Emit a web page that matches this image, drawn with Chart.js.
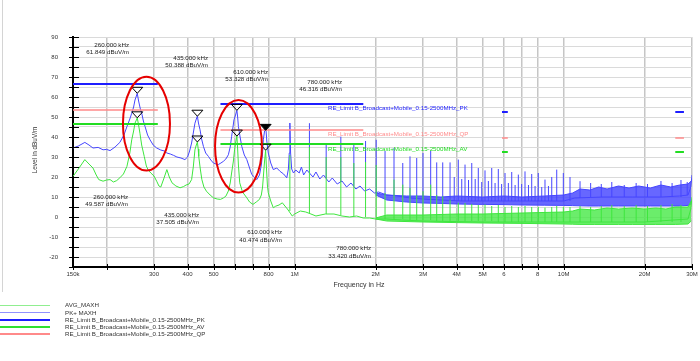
<!DOCTYPE html>
<html>
<head>
<meta charset="utf-8">
<script src="https://cdn.jsdelivr.net/npm/chart.js@4.4.1/dist/chart.umd.min.js"></script>
<style>
  html, body { margin: 0; padding: 0; background: #fff; }
  #wrap { position: relative; width: 700px; height: 361px; overflow: hidden; }
  #emi { position: absolute; left: 0; top: 0; }
  .lg-line { position: absolute; left: 0; width: 50px; }
  .lg-text { position: absolute; left: 65px; font: 6.2px "Liberation Sans", Arial, sans-serif; color: #333; line-height: 8px; white-space: nowrap; }
</style>
</head>
<body>
<div id="wrap">
  <canvas id="emi" width="700" height="361"></canvas>
  <div id="legend"></div>
</div>
<script>
// x axis ticks (kHz)
var xTickValues = [150, 200, 300, 400, 500, 600, 700, 800, 1000, 2000, 3000, 4000, 5000, 6000, 7000, 8000, 10000, 20000, 30000];
var xTickLabels = ['150k', '', '300', '400', '500', '', '', '800', '1M', '2M', '3M', '4M', '5M', '6', '', '8', '10M', '20M', '30M'];

// PK+ MAXH trace, base curve (kHz, dBuV/m)
var pkFreq = [150, 157, 166, 172, 178, 186, 194, 200, 206, 215, 224, 232, 238, 244, 248, 252, 255, 258, 260, 263, 267, 270, 274, 278, 284, 290, 298, 307, 318, 328, 335, 345, 355, 365, 378, 391, 400, 407, 414, 420, 426, 431, 435, 439, 445, 451, 458, 467, 478, 488, 499, 510, 520, 532, 543, 555, 567, 576, 583, 590, 595, 603, 610, 614, 618, 627, 636, 650, 664, 678, 693, 708, 723, 740, 752, 760, 765, 773, 780, 788, 798, 815, 833, 858, 883, 910, 935, 948, 955, 960, 966, 975, 990, 1010, 1040, 1060, 1080, 1110, 1170, 1200, 1240, 1280, 1340, 1380, 1440, 1500, 1560, 1620, 1690, 1750, 1820, 1900, 1980, 2050, 2200, 2400, 2700, 3000, 3500, 4200, 5000, 7000, 10000, 11000, 14000, 18000, 23000, 27000, 29000, 29700, 30000];
var pkLevel = [34.5, 35.5, 37.3, 36, 34.5, 34.8, 33.6, 33.8, 33.2, 35, 37.3, 41, 45.2, 49, 51.9, 55, 58.5, 60.5, 61.8, 58, 54, 52, 48, 45.2, 41, 38.6, 36, 34.5, 33.5, 33, 32, 31.5, 30.8, 30, 29.5, 28.7, 30, 33, 37, 42, 46.9, 49, 50.4, 47, 43.6, 39, 35.3, 32, 30.3, 28.5, 27, 26.5, 26.2, 27, 27.8, 29, 31.1, 35, 40.2, 45, 48.6, 51, 53.3, 50, 45.2, 40, 35.3, 31, 28.7, 25, 21.2, 20, 18.7, 21, 26, 32, 38.6, 43, 46.3, 38, 32, 27, 23.7, 24.5, 22.8, 21.5, 19.6, 24, 32, 47, 32, 24, 22, 23.5, 22, 25, 21, 23.5, 20, 22.5, 19, 21, 17.5, 19.5, 16.5, 18, 15, 17, 14, 15.5, 13, 14, 12, 12.5, 11, 10.5, 9.5, 9, 8.5, 8, 8, 8, 8, 9.5, 10, 10, 10, 10.5, 11, 15, 21];

// PK+ MAXH harmonic spikes
var pkSpikeFreq = [1135, 1310, 1485, 1660, 1835, 2010, 2168, 2341, 2523, 2684, 2843, 3000, 3204, 3374, 3552, 3782, 3920, 4059, 4180, 4299, 4430, 4554, 4690, 4816, 4960, 5101, 5250, 5403, 5560, 5716, 5880, 6054, 6230, 6412, 6600, 6785, 6980, 7184, 7400, 7608, 7830, 8049, 8290, 8524, 8780, 9031, 9425, 9972, 10560, 11506, 12600, 13800, 15100, 16800, 18600, 20500, 23000, 25300, 27300, 28800];
var pkSpikeTop = [46.9, 36, 40.2, 36, 38, 38.6, 33, 34.5, 27, 30.3, 29.5, 32, 33, 27.3, 27.3, 27.3, 20, 28.7, 19, 26.2, 18.5, 27, 19, 24.5, 17.5, 23.3, 18, 24.5, 17, 24, 16.5, 22, 17, 22.5, 16, 21.2, 16.5, 22.8, 16, 21.5, 15.5, 22, 15, 18.7, 15.5, 20, 23.7, 22, 20, 17.9, 17, 16.5, 17.5, 16, 17, 16.5, 18, 17, 18.5, 17.5];
var pkSpikeBase = [22, 19.5, 17.5, 15.5, 14, 12.5, 11.5, 11, 10, 9.5, 9, 9, 8.5, 8.5, 8, 8, 8, 8, 8, 8, 8, 8, 8, 8, 8, 8, 8, 8, 8, 8, 8, 8, 8, 8, 8, 8, 8, 8, 8, 8, 8, 8, 8, 8, 8, 8, 8, 8, 8, 9.5, 10, 10, 10, 10, 10, 10, 10, 10, 10, 11];

// PK+ MAXH dense noise band
var pkBandFreq = [2000, 2200, 2600, 3000, 3500, 4000, 5000, 6000, 7000, 8500, 10000, 10800, 11500, 12500, 13500, 14500, 16000, 17500, 19000, 21000, 23000, 25000, 27000, 29000, 29800];
var pkBandLow = [11, 8.5, 7.5, 7, 6.8, 6.5, 6.3, 6.2, 6, 5.9, 5.8, 5.7, 5.6, 5.5, 5.5, 5.5, 5.5, 5.5, 5.5, 5.5, 5.5, 5.5, 5.5, 5.8, 6.5];
var pkBandHigh = [12, 11, 10.5, 10.5, 10, 10.5, 10, 10.5, 10, 10.5, 11, 12, 14, 13.5, 15, 14, 15.5, 14.5, 15.5, 14.5, 16, 15, 16, 16.5, 18];

// AVG_MAXH trace, base curve
var avFreq = [150, 157, 166, 172, 178, 183, 187, 194, 200, 206, 212, 218, 224, 231, 238, 244, 248, 252, 255, 258, 260, 263, 266, 270, 276, 281, 285, 292, 300, 307, 313, 318, 326, 335, 342, 350, 362, 375, 386, 395, 405, 414, 420, 426, 431, 435, 438, 440, 446, 452, 460, 470, 485, 499, 515, 530, 543, 555, 567, 576, 583, 592, 598, 604, 610, 614, 618, 625, 640, 664, 680, 700, 720, 740, 752, 760, 765, 772, 780, 786, 792, 798, 815, 833, 850, 875, 900, 920, 940, 980, 1000, 1050, 1100, 1150, 1200, 1300, 1400, 1500, 1600, 1700, 1800, 1900, 2000, 2200, 2500, 3000, 4000, 5000, 10000, 20000, 29000, 29700, 30000];
var avLevel = [20.3, 24, 28.7, 26.5, 24.5, 21, 18.7, 17.9, 18.5, 18.7, 17.5, 18.2, 19.6, 21.5, 25.3, 32, 38.6, 43, 46.9, 48.5, 49.6, 46, 41.9, 36, 30.3, 25.5, 23.7, 22, 20.5, 17.9, 15.5, 15, 19, 23.7, 20, 17.1, 15.5, 14.6, 15.2, 16, 16.5, 18.7, 25, 33.6, 36, 37.5, 34, 30.3, 24, 18.7, 15, 12.9, 11, 9.6, 9, 8.8, 9.5, 10.4, 13, 17, 22, 28, 33.6, 37.5, 40.5, 34, 26, 17.1, 12.5, 9.6, 7.5, 6.3, 7.5, 8.8, 11, 15, 20, 27, 33.4, 24, 16, 12.1, 8, 4.6, 5.4, 6, 7.1, 5.5, 4, 0.5, 1.5, 3, 2.5, 1.5, 0.5, 1.5, 1.5, 0.5, 0, 0.5, -0.5, -0.5, -1, -1, -1.5, -2, -2.3, -2.5, -2.5, -2.5, -1, 4, 10];

// AVG_MAXH harmonic spikes
var avSpikeFreq = [960, 1135, 1310, 1485, 1660, 1835, 2010, 2168, 2341, 2523, 2684, 2843, 3000, 3204, 3374, 3552, 3782, 4059, 4299, 4554, 4816, 5101, 5403, 5716, 6054, 6412, 6785, 7184, 7608, 8049, 8524, 9031, 9425, 9972, 10560, 11506, 12600, 13800, 15100, 16800, 18600, 20500, 23000, 25300, 27300];
var avSpikeTop = [31, 35, 30, 30, 27, 27.5, 26, 12, 18.7, 16.2, 14.6, 11, 12.9, 16.2, 11, 10.4, 8.7, 7.1, 7, 6.5, 6, 6.3, 5.5, 6, 5, 5.5, 5, 5.5, 5, 5, 4.7, 5, 5.5, 5, 5, 5.5, 5, 5.5, 6, 5.5, 6, 5.5, 6, 6.5, 6];
var avSpikeBase = [3, 2, 1.5, 1, 0.5, 0, -0.5, -1, -1, -1, -1.5, -1.5, -1.5, -1.5, -2, -2, -2, -2, -2, -2, -2, -2, -2, -2.5, -2.5, -2.5, -2.5, -2.5, -2.5, -2.5, -2.5, -2.5, -2.5, -2.5, -2.5, -2.5, -2.5, -2.5, -2.5, -2.5, -2.5, -2.5, -2.5, -2.5, -2.5];

// AVG_MAXH dense noise band
var avBandFreq = [2000, 2200, 3000, 4000, 5000, 7000, 10000, 10800, 11500, 13000, 14500, 16000, 18000, 20000, 22000, 24000, 26000, 29000, 29800];
var avBandLow = [-1, -2, -2.5, -2.8, -3, -3.2, -3.5, -3.6, -3.7, -3.7, -3.7, -3.7, -3.7, -3.7, -3.7, -3.7, -3.7, -3.5, -2];
var avBandHigh = [-0.5, 1, 1, 1.5, 1.5, 2, 2.5, 3, 4, 3.5, 4.5, 4, 4.5, 4, 4.5, 4, 5, 5, 8];

// limit lines (broadcast bands LW, MW, SW, CB)
var limitStart = [150, 530, 5900, 26000];
var limitEnd = [310, 1800, 6200, 28000];
var pkLimit = [66.5, 56.5, 52.5, 52.5];
var qpLimit = [53.5, 43.5, 39.5, 39.5];
var avLimit = [46.5, 36.5, 32.5, 32.5];

// markers
var markerFreq = [260, 435, 610, 780];
var pkMarkerLevel = [61.849, 50.388, 53.328, 46.316];
var avMarkerLevel = [49.587, 37.505, 40.474, 33.420];

function pts(xs, ys) {
  return xs.map(function (x, i) { return { x: x, y: ys[i] }; });
}
function spikes(xs, base, top) {
  var out = [];
  xs.forEach(function (x, i) {
    out.push({ x: x, y: base[i] }, { x: x, y: top[i] }, { x: x, y: null });
  });
  return out;
}
function segments(levels) {
  var out = [];
  limitStart.forEach(function (s, i) {
    out.push({ x: s, y: levels[i] }, { x: limitEnd[i], y: levels[i] }, { x: limitEnd[i], y: null });
  });
  return out;
}
function line(data, color, width, order, extra) {
  var d = { data: data, borderColor: color, backgroundColor: color, borderWidth: width, pointRadius: 0, tension: 0, fill: false, order: order };
  for (var k in extra) d[k] = extra[k];
  return d;
}

var PK = '#4646ff', AV = '#3ee63e';

var datasets = [
  line(segments(pkLimit), '#1e1eff', 2, 0),
  line(segments(qpLimit), '#ff8a8a', 1.5, 1),
  line(segments(avLimit), '#22dd22', 2, 2),
  line(spikes(avSpikeFreq, avSpikeBase, avSpikeTop), AV, 1, 5),
  line(pts(avFreq, avLevel), AV, 1, 6),
  line(spikes(pkSpikeFreq, pkSpikeBase, pkSpikeTop), PK, 1, 7),
  line(pts(pkFreq, pkLevel), PK, 1, 8),
  line(pts(avBandFreq, avBandLow), AV, 1, 9),
  line(pts(avBandFreq, avBandHigh), AV, 1, 9, { fill: '-1', backgroundColor: 'rgba(70,232,70,0.8)' }),
  line(pts(pkBandFreq, pkBandLow), PK, 1, 10),
  line(pts(pkBandFreq, pkBandHigh), PK, 1, 10, { fill: '-1', backgroundColor: 'rgba(70,70,255,0.82)' })
];

var FONT = '"Liberation Sans", Arial, sans-serif';

var overlay = {
  id: 'overlay',
  afterDraw: function (chart) {
    var ctx = chart.ctx, xs = chart.scales.x, ys = chart.scales.y, a = chart.chartArea;
    ctx.save();

    // outer frame line
    ctx.strokeStyle = '#d4d4d4';
    ctx.lineWidth = 1;
    ctx.beginPath(); ctx.moveTo(2.5, 0); ctx.lineTo(2.5, 292); ctx.stroke();

    // tick marks
    ctx.strokeStyle = '#000';
    ys.ticks.forEach(function (t) {
      var py = Math.round(ys.getPixelForValue(t.value)) + 0.5;
      ctx.beginPath(); ctx.moveTo(a.left - 4, py); ctx.lineTo(a.left + 6, py); ctx.stroke();
    });
    xs.ticks.forEach(function (t) {
      var px = Math.round(xs.getPixelForValue(t.value)) + 0.5;
      ctx.beginPath(); ctx.moveTo(px, a.bottom - 3); ctx.lineTo(px, a.bottom + 3); ctx.stroke();
    });

    // axis titles
    ctx.fillStyle = '#333';
    ctx.textBaseline = 'middle';
    ctx.textAlign = 'center';
    ctx.font = '7px ' + FONT;
    ctx.fillText('Frequency in Hz', 359, 285);
    ctx.save();
    ctx.translate(35, 150);
    ctx.rotate(-Math.PI / 2);
    ctx.font = '6.4px ' + FONT;
    ctx.fillText('Level in dBuV/m', 0, 0);
    ctx.restore();

    // limit line labels
    ctx.textAlign = 'left';
    ctx.font = '6.2px ' + FONT;
    var lx = 328;
    ctx.fillStyle = '#1e1eff';
    ctx.fillText('RE_Limit B_Broadcast+Mobile_0.15-2500MHz_PK', lx, 108);
    ctx.fillStyle = '#ff8c8c';
    ctx.fillText('RE_Limit B_Broadcast+Mobile_0.15-2500MHz_QP', lx, 134.5);
    ctx.fillStyle = '#22dd22';
    ctx.fillText('RE_Limit B_Broadcast+Mobile_0.15-2500MHz_AV', lx, 149);

    // markers (triangles)
    function tri(f, lev, filled) {
      var px = xs.getPixelForValue(f), py = ys.getPixelForValue(lev);
      if (filled) py += 6;
      ctx.beginPath();
      ctx.moveTo(px, py);
      ctx.lineTo(px - 5.5, py - 6);
      ctx.lineTo(px + 5.5, py - 6);
      ctx.closePath();
      if (filled) { ctx.fillStyle = '#000'; ctx.fill(); }
      ctx.strokeStyle = '#000';
      ctx.lineWidth = 1;
      ctx.stroke();
    }
    markerFreq.forEach(function (f, i) {
      tri(f, pkMarkerLevel[i], i === 3);
      tri(f, avMarkerLevel[i], false);
    });

    // marker texts: right edge x and first line y (layout positions)
    var pkTextPos = [[129, 45], [208, 58], [268, 72], [342, 82]];
    var avTextPos = [[128, 197], [199, 215], [282, 232.5], [371, 248.5]];
    ctx.fillStyle = '#222';
    ctx.textAlign = 'right';
    ctx.font = '6.2px ' + FONT;
    markerFreq.forEach(function (f, i) {
      var p = pkTextPos[i], q = avTextPos[i];
      ctx.fillText(f.toFixed(3) + ' kHz', p[0], p[1]);
      ctx.fillText(pkMarkerLevel[i].toFixed(3) + ' dBuV/m', p[0], p[1] + 7.5);
      ctx.fillText(f.toFixed(3) + ' kHz', q[0], q[1]);
      ctx.fillText(avMarkerLevel[i].toFixed(3) + ' dBuV/m', q[0], q[1] + 7.5);
    });

    // red ellipses (data anchored)
    function ell(f0, f1, l0, l1) {
      var x0 = xs.getPixelForValue(f0), x1 = xs.getPixelForValue(f1);
      var y0 = ys.getPixelForValue(l0), y1 = ys.getPixelForValue(l1);
      ctx.beginPath();
      ctx.ellipse((x0 + x1) / 2, (y0 + y1) / 2, Math.abs(x1 - x0) / 2, Math.abs(y1 - y0) / 2, 0, 0, Math.PI * 2);
      ctx.strokeStyle = '#e60000';
      ctx.lineWidth = 2;
      ctx.stroke();
    }
    ell(230, 344, 70.1, 23.2);
    ell(506, 756, 58.5, 12.2);

    ctx.restore();
  }
};

new Chart(document.getElementById('emi'), {
  type: 'line',
  data: { datasets: datasets },
  options: {
    responsive: false,
    animation: false,
    devicePixelRatio: 1,
    layout: { padding: { left: 0, right: 8, top: 37, bottom: 64 } },
    plugins: { legend: { display: false }, tooltip: { enabled: false } },
    scales: {
      x: {
        type: 'logarithmic',
        min: 150,
        max: 30000,
        afterBuildTicks: function (s) {
          s.ticks = xTickValues.map(function (v) { return { value: v }; });
        },
        afterFit: function (s) { s.height = 30; s.paddingLeft = 0; s.paddingRight = 0; },
        ticks: {
          autoSkip: false,
          maxRotation: 0,
          padding: 4,
          color: '#333',
          font: { size: 6, family: FONT },
          callback: function (v, i) { return xTickLabels[i]; }
        },
        grid: { color: '#c6c6c6', lineWidth: 1.5, drawTicks: false },
        border: { color: '#000', width: 2 }
      },
      y: {
        min: -25,
        max: 90,
        afterFit: function (s) { s.width = 73; s.paddingTop = 0; s.paddingBottom = 0; },
        ticks: {
          stepSize: 5,
          autoSkip: false,
          padding: 15,
          color: '#333',
          font: { size: 6, family: FONT },
          callback: function (v) { return v % 10 === 0 ? String(v) : ''; }
        },
        grid: { color: '#dadada', lineWidth: 1, drawTicks: false },
        border: { color: '#000', width: 2 }
      }
    }
  },
  plugins: [overlay]
});

// legend below the chart
var legendItems = [
  { text: 'AVG_MAXH', color: '#90ee90', width: 1, y: 305 },
  { text: 'PK+ MAXH', color: '#9090ff', width: 1, y: 312.5 },
  { text: 'RE_Limit B_Broadcast+Mobile_0.15-2500MHz_PK', color: '#1e1eff', width: 2, y: 320 },
  { text: 'RE_Limit B_Broadcast+Mobile_0.15-2500MHz_AV', color: '#30e030', width: 2, y: 327 },
  { text: 'RE_Limit B_Broadcast+Mobile_0.15-2500MHz_QP', color: '#ff8a8a', width: 2, y: 334 }
];
var lg = document.getElementById('legend');
legendItems.forEach(function (it) {
  var l = document.createElement('div');
  l.className = 'lg-line';
  l.style.top = (it.y - it.width / 2) + 'px';
  l.style.height = it.width + 'px';
  l.style.background = it.color;
  lg.appendChild(l);
  var t = document.createElement('div');
  t.className = 'lg-text';
  t.style.top = (it.y - 4) + 'px';
  t.textContent = it.text;
  lg.appendChild(t);
});
</script>
</body>
</html>
